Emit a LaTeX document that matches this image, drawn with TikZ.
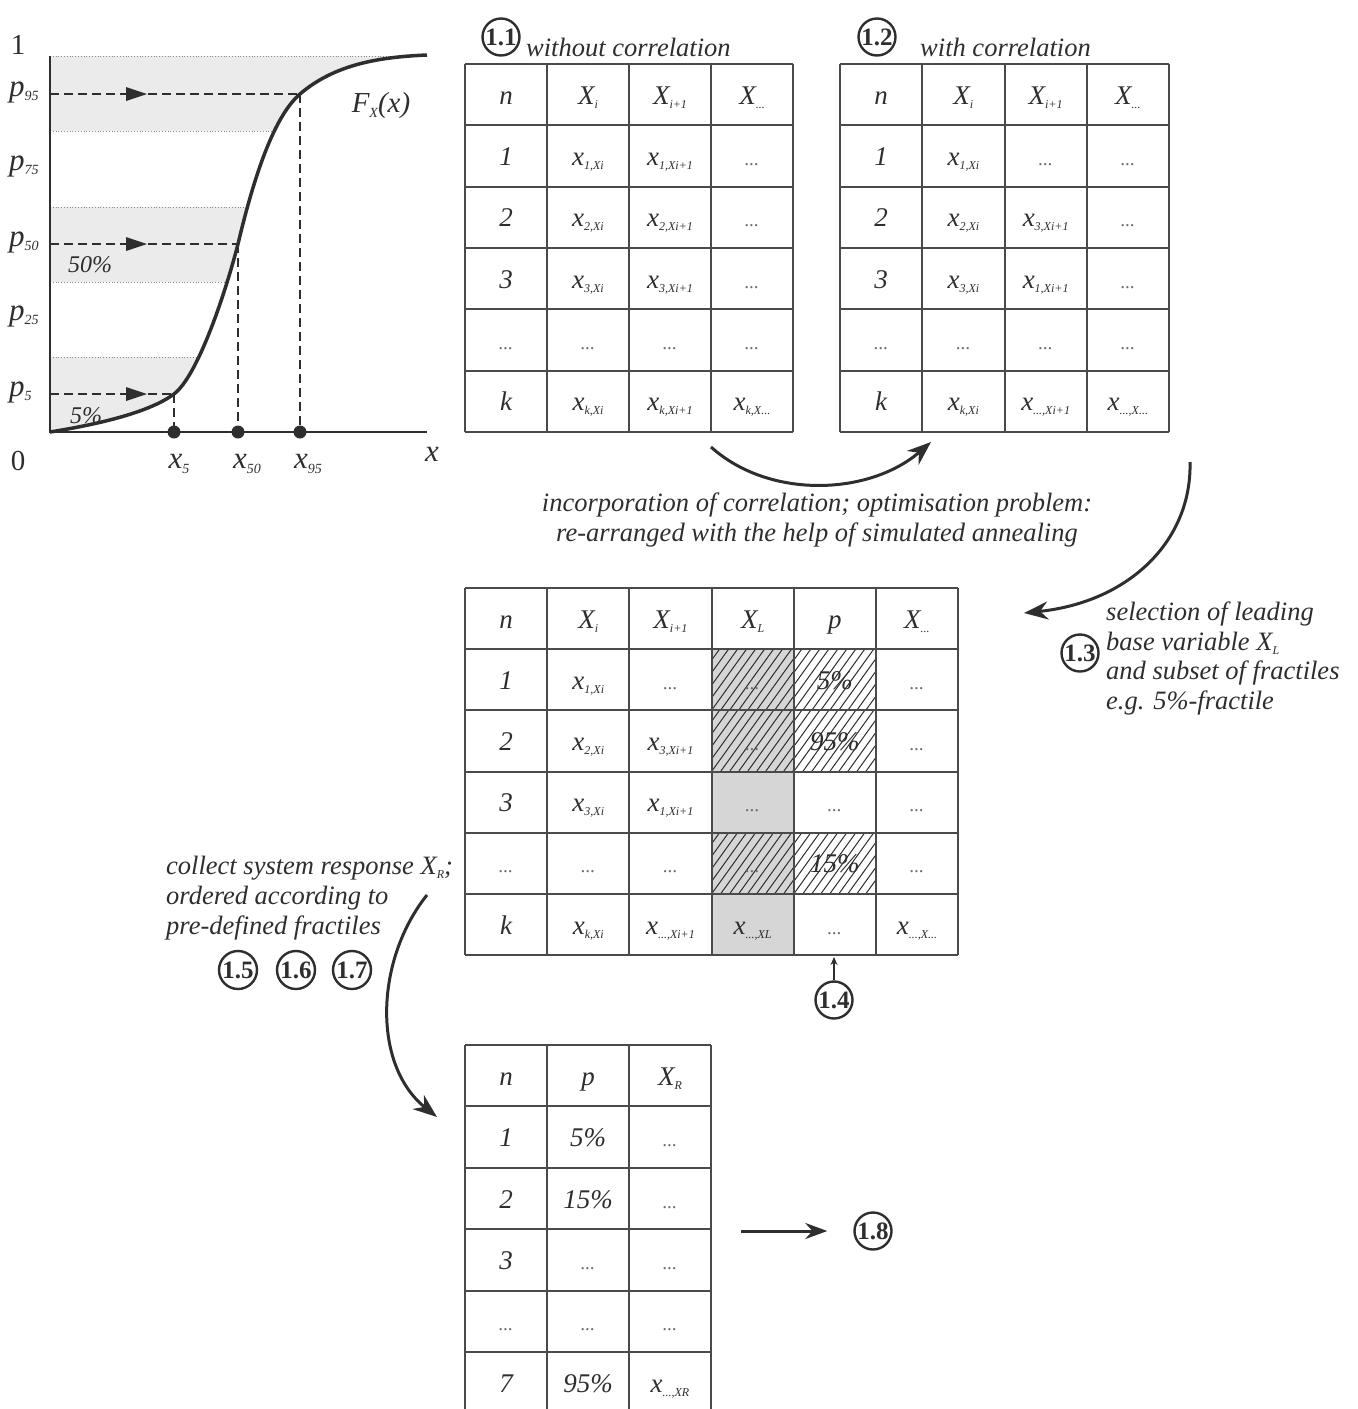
\documentclass[tikz,border=0pt]{standalone}
\usepackage{fontspec}
\setmainfont{Liberation Serif}
\usetikzlibrary{arrows.meta}
\definecolor{ink}{HTML}{2E2E2E}
\definecolor{tcol}{HTML}{4A4A4A}
\definecolor{band}{HTML}{EBEBEB}
\definecolor{cgray}{HTML}{D6D6D6}
\definecolor{dotc}{HTML}{6A6A6A}
\newcommand\mysub[2][12]{\raisebox{-0.35ex}{\fontsize{#1}{#1}\selectfont #2}}
\newcommand\dd{{\fontsize{19}{19}\selectfont\color{dotc}...}}
\newcommand\xs[1]{x\mysub{#1}}
\newcommand\Xs[1]{X\mysub{#1}}
\newcommand\tabrow[5]{\foreach \tx [count=\c] in {#5} {\node[cell] (#1-\c) at ({#2+#3*(\c-0.5)},#4) {\tx};}}
\newcommand\hatch[4]{\begin{scope}\clip (#1,#2) rectangle (#3,#4);
  \foreach \k in {-54,-45,...,90} {\draw[ink,line width=1pt] ({#1+\k},#4) -- ({#1+\k+44},#2);}
  \end{scope}}
\begin{document}
\begin{tikzpicture}[x=1pt,y=-1pt,
  txt/.style={text=ink,font=\fontsize{26.5}{30}\selectfont\itshape,inner sep=0pt},
  cell/.style={text=ink,font=\fontsize{27}{30}\selectfont\itshape,inner sep=0pt,anchor=base},
  tline/.style={draw=tcol,line width=2pt},
  num/.style={circle,draw=ink,line width=2.4pt,minimum size=37pt,inner sep=0pt,text=ink,font=\fontsize{25}{25}\selectfont\bfseries},
  bigarrow/.style={draw=ink,line width=3pt,-{Stealth[length=24pt,width=18pt]}},
  dashl/.style={draw=ink,line width=2pt,dash pattern=on 9pt off 5pt},
  band line/.style={draw=black!45,line width=0.8pt,dotted},
]
\useasboundingbox (0,0) rectangle (1358,1409);
\clip (0,0) rectangle (1358,1409);
% ---------------- graph ----------------
\begin{scope}
\clip (50,432) .. controls (100,424) and (150,412) .. (174,394)
  .. controls (198,376) and (226,291) .. (238,244)
  .. controls (252,185) and (272,118) .. (300,94)
  .. controls (335,64) and (380,57) .. (427,55) -- (427,50) -- (50,50) -- cycle;
\fill[band] (50,56) rectangle (430,131);
\fill[band] (50,207) rectangle (430,282);
\fill[band] (50,357) rectangle (430,432);
\foreach \yy in {56,131,207,282,357} {\draw[band line] (50,\yy) -- (430,\yy);}
\end{scope}
\draw[dashl] (50,94) -- (300,94);
\draw[dashl] (50,244) -- (238,244);
\draw[dashl] (50,394) -- (174,394);
\draw[dashl] (300,94) -- (300,432);
\draw[dashl] (238,244) -- (238,432);
\draw[dashl] (174,394) -- (174,432);
\foreach \yy in {94,244,394} {\fill[ink] (126,{\yy-7}) -- (147,\yy) -- (126,{\yy+7}) -- cycle;}
\draw[ink,line width=2.5pt] (50,56) -- (50,432) -- (427,432);
\draw[ink,line width=3.5pt] (50,432) .. controls (100,424) and (150,412) .. (174,394)
  .. controls (198,376) and (226,291) .. (238,244)
  .. controls (252,185) and (272,118) .. (300,94)
  .. controls (335,64) and (380,57) .. (427,55);
\foreach \xx in {174,238,300} {\fill[ink] (\xx,432) circle (6.5);}
\node[txt,font=\fontsize{29}{29}\selectfont] (one) at (18,45) {1};
\node[txt,font=\fontsize{29}{29}\selectfont] (zero) at (18,461) {0};
\node[txt,font=\fontsize{31}{31}\selectfont\itshape] (xlab) at (432,454) {x};
\node[txt,anchor=west,font=\fontsize{31}{31}\selectfont\itshape] (p95) at (9,92) {p\mysub[14]{95}};
\node[txt,anchor=west,font=\fontsize{31}{31}\selectfont\itshape] (p75) at (9,166) {p\mysub[14]{75}};
\node[txt,anchor=west,font=\fontsize{31}{31}\selectfont\itshape] (p50) at (9,242) {p\mysub[14]{50}};
\node[txt,anchor=west,font=\fontsize{31}{31}\selectfont\itshape] (p25) at (9,316) {p\mysub[14]{25}};
\node[txt,anchor=west,font=\fontsize{31}{31}\selectfont\itshape] (p5) at (9,392) {p\mysub[14]{5}};
\node[txt,font=\fontsize{29}{29}\selectfont\itshape] (Fx) at (381,106) {F\mysub[14]{X}(x)};
\node[txt,font=\fontsize{24}{24}\selectfont\itshape] (pc50) at (90,265) {50\%};
\node[txt,font=\fontsize{24}{24}\selectfont\itshape] (pc5) at (86,416) {5\%};
\node[txt,font=\fontsize{31}{31}\selectfont\itshape] (x5) at (179,464) {x\mysub[14]{5}};
\node[txt,font=\fontsize{31}{31}\selectfont\itshape] (x50) at (247,464) {x\mysub[14]{50}};
\node[txt,font=\fontsize{31}{31}\selectfont\itshape] (x95) at (308,464) {x\mysub[14]{95}};
% ---------------- table 1.1 ----------------
\foreach \xx in {465,547,629,711,793} {\draw[tline] (\xx,64) -- (\xx,432);}
\foreach \yy in {64,125.33,186.67,248,309.33,370.67,432} {\draw[tline] (465,\yy) -- (793,\yy);}
\tabrow{A0}{465}{82}{104}{n, \Xs{i}, \Xs{i+1}, \Xs{...}}
\tabrow{A1}{465}{82}{165}{1, {\xs{1,Xi}}, {\xs{1,Xi+1}}, \dd}
\tabrow{A2}{465}{82}{226}{2, {\xs{2,Xi}}, {\xs{2,Xi+1}}, \dd}
\tabrow{A3}{465}{82}{288}{3, {\xs{3,Xi}}, {\xs{3,Xi+1}}, \dd}
\tabrow{A4}{465}{82}{349}{\dd, \dd, \dd, \dd}
\tabrow{A5}{465}{82}{410}{k, {\xs{k,Xi}}, {\xs{k,Xi+1}}, {\xs{k,X...}}}
\node[num] (c11) at (501,37) {1.1};
\node[txt,anchor=base west] (t11) at (526,56) {without correlation};
% ---------------- table 1.2 ----------------
\foreach \xx in {840,922.25,1004.5,1086.75,1169} {\draw[tline] (\xx,64) -- (\xx,432);}
\foreach \yy in {64,125.33,186.67,248,309.33,370.67,432} {\draw[tline] (840,\yy) -- (1169,\yy);}
\tabrow{B0}{840}{82.25}{104}{n, \Xs{i}, \Xs{i+1}, \Xs{...}}
\tabrow{B1}{840}{82.25}{165}{1, {\xs{1,Xi}}, \dd, \dd}
\tabrow{B2}{840}{82.25}{226}{2, {\xs{2,Xi}}, {\xs{3,Xi+1}}, \dd}
\tabrow{B3}{840}{82.25}{288}{3, {\xs{3,Xi}}, {\xs{1,Xi+1}}, \dd}
\tabrow{B4}{840}{82.25}{349}{\dd, \dd, \dd, \dd}
\tabrow{B5}{840}{82.25}{410}{k, {\xs{k,Xi}}, {\xs{...,Xi+1}}, {\xs{...,X...}}}
\node[num] (c12) at (877,37) {1.2};
\node[txt,anchor=base west] (t12) at (920,56) {with correlation};
% ---------------- arrows between ----------------
\coordinate (a1s) at (711,447);
\coordinate (a1e) at (931,442);
\draw[bigarrow] (a1s) .. controls (770,500) and (870,495) .. (a1e);
\node[txt,anchor=base] (cap1) at (817,511) {incorporation of correlation; optimisation problem:};
\node[txt,anchor=base] (cap2) at (817,541) {re-arranged with the help of simulated annealing};
\coordinate (a2s) at (1190,462);
\coordinate (a2e) at (1024,613);
\draw[bigarrow] (a2s) .. controls (1192,540) and (1130,602) .. (a2e);
\node[num] (c13) at (1080,653) {1.3};
\node[txt,anchor=base west] (r1) at (1106,620) {selection of leading};
\node[txt,anchor=base west] (r2) at (1106,650) {base variable X\mysub{L}};
\node[txt,anchor=base west] (r3) at (1106,679) {and subset of fractiles};
\node[txt,anchor=base west] (r4) at (1106,709) {e.g. 5\%-fractile};
% ---------------- table 3 ----------------
\fill[cgray] (711.5,649.2) rectangle (793.7,955.2);
\hatch{711.5}{649.2}{793.7}{710.4}
\hatch{711.5}{710.4}{793.7}{771.6}
\hatch{711.5}{832.8}{793.7}{894}
\hatch{793.7}{649.2}{875.9}{710.4}
\hatch{793.7}{710.4}{875.9}{771.6}
\hatch{793.7}{832.8}{875.9}{894}
\foreach \xx in {465,547.17,629.33,711.5,793.67,875.83,958} {\draw[tline] (\xx,588) -- (\xx,955.2);}
\foreach \yy in {588,649.2,710.4,771.6,832.8,894,955.2} {\draw[tline] (465,\yy) -- (958,\yy);}
\tabrow{C0}{465}{82.17}{628}{n, \Xs{i}, \Xs{i+1}, \Xs{L}, p, \Xs{...}}
\tabrow{C1}{465}{82.17}{689}{1, {\xs{1,Xi}}, \dd, \dd, 5\%, \dd}
\tabrow{C2}{465}{82.17}{750}{2, {\xs{2,Xi}}, {\xs{3,Xi+1}}, \dd, 95\%, \dd}
\tabrow{C3}{465}{82.17}{811}{3, {\xs{3,Xi}}, {\xs{1,Xi+1}}, \dd, \dd, \dd}
\tabrow{C4}{465}{82.17}{872}{\dd, \dd, \dd, \dd, 15\%, \dd}
\tabrow{C5}{465}{82.17}{934}{k, {\xs{k,Xi}}, {\xs{...,Xi+1}}, {\xs{...,XL}}, \dd, {\xs{...,X...}}}
\node[num] (c14) at (834,1000) {1.4};
\coordinate (a4e) at (834,957);
\draw[ink,line width=1.5pt,-{Stealth[length=8pt,width=7pt]}] (c14.north) -- (a4e);
% ---------------- left text ----------------
\node[txt,anchor=base west] (l1) at (166,874) {collect system response X\mysub{R};};
\node[txt,anchor=base west] (l2) at (166,904) {ordered according to};
\node[txt,anchor=base west] (l3) at (166,934) {pre-defined fractiles};
\node[num,minimum size=38pt] (c15) at (238,970) {1.5};
\node[num,minimum size=38pt] (c16) at (296,970) {1.6};
\node[num,minimum size=38pt] (c17) at (352,970) {1.7};
\coordinate (a3s) at (427,895);
\coordinate (a3e) at (437,1117);
\draw[bigarrow] (a3s) .. controls (375,960) and (372,1065) .. (a3e);
% ---------------- table 4 ----------------
\foreach \xx in {465,547,629,711} {\draw[tline] (\xx,1045) -- (\xx,1412);}
\foreach \yy in {1045,1106.4,1167.8,1229.2,1290.6,1352} {\draw[tline] (465,\yy) -- (711,\yy);}
\tabrow{D0}{465}{82}{1085}{n, p, \Xs{R}}
\tabrow{D1}{465}{82}{1146}{1, 5\%, \dd}
\tabrow{D2}{465}{82}{1208}{2, 15\%, \dd}
\tabrow{D3}{465}{82}{1269}{3, \dd, \dd}
\tabrow{D4}{465}{82}{1330}{\dd, \dd, \dd}
\tabrow{D5}{465}{82}{1392}{7, 95\%, {\xs{...,XR}}}
\node[num] (c18) at (873,1231) {1.8};
\coordinate (a5s) at (741,1231);
\draw[ink,line width=3pt,-{Stealth[length=22pt,width=16pt]}] (a5s) -- (c18.west) [shorten >=26pt];
\end{tikzpicture}
\end{document}
